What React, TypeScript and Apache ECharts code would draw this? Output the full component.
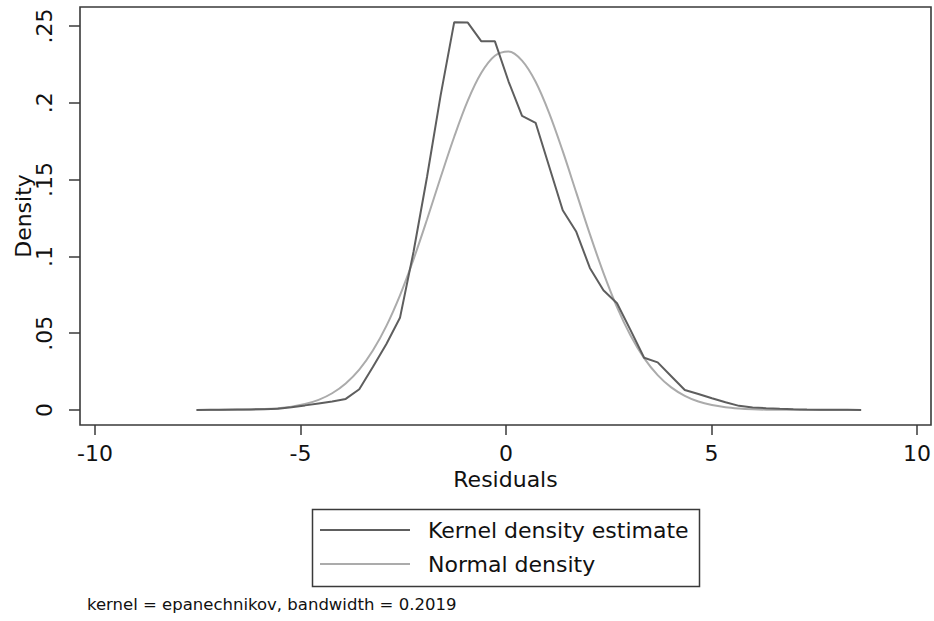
import React, { useEffect, useRef } from "react";
import * as echarts from "echarts";

// Grid of evaluation points (residuals)
const gridX = [
  -7.53, -7.2, -6.87, -6.54, -6.21, -5.88, -5.55, -5.22, -4.89, -4.56,
  -4.23, -3.9, -3.57, -3.24, -2.91, -2.58, -2.25, -1.92, -1.59, -1.26,
  -0.93, -0.6, -0.27, 0.06, 0.39, 0.72, 1.05, 1.38, 1.71, 2.04,
  2.37, 2.7, 3.03, 3.36, 3.69, 4.02, 4.35, 4.68, 5.01, 5.34,
  5.67, 6.0, 6.33, 6.66, 6.99, 7.32, 7.65, 7.98, 8.31, 8.64,
];

// Kernel density estimate
const kernelDensity = [
  0.0, 0.0001, 0.0002, 0.0003, 0.0004, 0.0005, 0.0008, 0.0018, 0.003, 0.0043,
  0.0056, 0.0072, 0.0135, 0.028, 0.043, 0.06, 0.103, 0.152, 0.205, 0.2525,
  0.2522, 0.24, 0.24, 0.214, 0.1915, 0.187, 0.1585, 0.13, 0.116, 0.0925,
  0.078, 0.0695, 0.052, 0.034, 0.031, 0.022, 0.013, 0.0104, 0.0076, 0.005,
  0.0027, 0.0017, 0.0012, 0.0008, 0.0005, 0.0003, 0.0002, 0.0001, 0.0001, 0.0,
];

// Normal density
const normalDensity = [
  0.0, 0.0, 0.0001, 0.0002, 0.0003, 0.0006, 0.0012, 0.0022, 0.0039, 0.0066,
  0.0109, 0.0173, 0.0263, 0.0387, 0.0548, 0.0747, 0.0981, 0.1242, 0.1515, 0.1779,
  0.2014, 0.2195, 0.2306, 0.2334, 0.2275, 0.2137, 0.1933, 0.1685, 0.1415, 0.1145,
  0.0893, 0.067, 0.0485, 0.0338, 0.0227, 0.0147, 0.0092, 0.0055, 0.0032, 0.0018,
  0.001, 0.0005, 0.0002, 0.0001, 0.0001, 0.0, 0.0, 0.0, 0.0, 0.0,
];

const xTicks = [-10, -5, 0, 5, 10];
const yTicks = [0, 0.05, 0.1, 0.15, 0.2, 0.25];

const seriesNames = ["Kernel density estimate", "Normal density"];
const note = "kernel = epanechnikov, bandwidth = 0.2019";

const FONT = "DejaVu Sans";
const TEXT = "#111111";
const FRAME = "#3a3a3a";

export default function App() {
  const ref = useRef<HTMLDivElement>(null);

  useEffect(() => {
    document.body.style.margin = "0";
    const chart = echarts.init(ref.current!, null, {
      renderer: "svg",
      width: 934,
      height: 621,
    });
    chart.setOption({
      animation: false,
      backgroundColor: "#ffffff",
      textStyle: { fontFamily: FONT },
      grid: {
        left: 80,
        right: 3,
        top: 7,
        bottom: 196,
        containLabel: false,
        outerBoundsMode: "none",
        show: true,
        borderColor: FRAME,
        borderWidth: 1.6,
        backgroundColor: "#ffffff",
      },
      xAxis: {
        type: "value",
        min: -10.365,
        max: 10.34,
        name: "Residuals",
        nameLocation: "middle",
        nameGap: 43,
        nameMoveOverlap: false,
        nameTextStyle: { fontSize: 22, color: TEXT, fontFamily: FONT },
        axisLine: { show: false, onZero: false },
        splitLine: { show: false },
        axisTick: {
          show: true,
          length: 10,
          customValues: xTicks,
          lineStyle: { color: FRAME, width: 1.5 },
        },
        axisLabel: {
          customValues: xTicks,
          fontSize: 22,
          margin: 17,
          color: TEXT,
          fontFamily: FONT,
          formatter: (v: number) => String(v),
        },
      },
      yAxis: {
        type: "value",
        min: -0.00977,
        max: 0.26237,
        name: "Density",
        nameLocation: "middle",
        nameGap: 46,
        nameMoveOverlap: false,
        nameTextStyle: { fontSize: 22, color: TEXT, fontFamily: FONT },
        axisLine: { show: false, onZero: false },
        splitLine: { show: false },
        axisTick: {
          show: true,
          length: 11,
          customValues: yTicks,
          lineStyle: { color: FRAME, width: 1.5 },
        },
        axisLabel: {
          customValues: yTicks,
          rotate: 90,
          fontSize: 22,
          margin: 25,
          color: TEXT,
          fontFamily: FONT,
          formatter: (v: number) =>
            v === 0 ? "0" : String(Math.round(v * 100) / 100).replace(/^0/, ""),
        },
      },
      legend: {
        orient: "vertical",
        left: 320,
        top: 519,
        icon: "rect",
        itemWidth: 90,
        itemHeight: 2,
        itemGap: 12,
        padding: 0,
        data: seriesNames,
        textStyle: {
          fontSize: 22,
          color: TEXT,
          fontFamily: FONT,
          padding: [0, 0, 0, 13],
        },
      },
      graphic: [
        {
          type: "rect",
          left: 310,
          top: 507,
          shape: { width: 387, height: 77 },
          style: { fill: "none", stroke: FRAME, lineWidth: 1.5 },
          silent: true,
        },
        {
          type: "text",
          left: 87,
          top: 596,
          style: {
            text: note,
            fontSize: 16.5,
            fontFamily: FONT,
            fill: TEXT,
          },
          silent: true,
        },
      ],
      series: [
        {
          type: "line",
          name: seriesNames[0],
          data: gridX.map((x, i) => [x, kernelDensity[i]]),
          symbol: "none",
          lineStyle: { color: "#5e5e5e", width: 2 },
          itemStyle: { color: "#5e5e5e" },
          z: 3,
        },
        {
          type: "line",
          name: seriesNames[1],
          data: gridX.map((x, i) => [x, normalDensity[i]]),
          symbol: "none",
          smooth: 0.35,
          lineStyle: { color: "#ababab", width: 2 },
          itemStyle: { color: "#ababab" },
          z: 2,
        },
      ],
    });
    return () => chart.dispose();
  }, []);

  return <div ref={ref} style={{ width: 934, height: 621 }} />;
}
